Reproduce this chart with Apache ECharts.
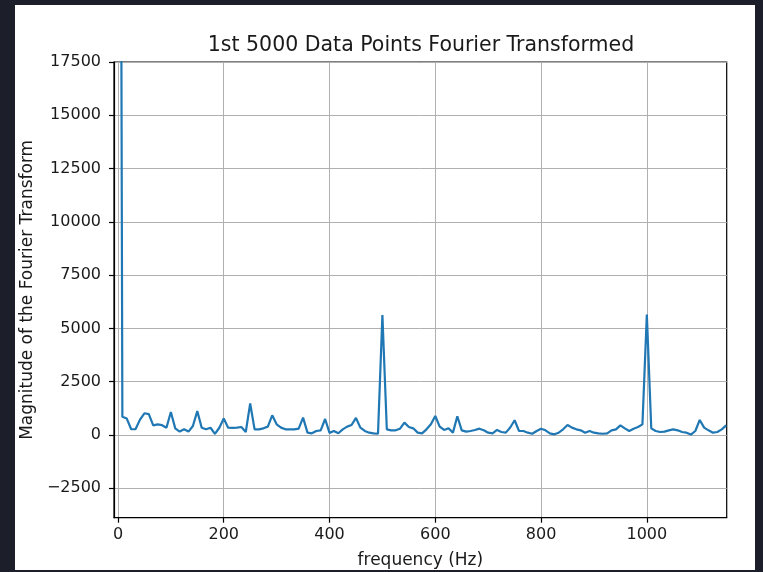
<!DOCTYPE html>
<html>
<head>
<meta charset="utf-8">
<script src="https://cdn.jsdelivr.net/npm/echarts@6/dist/echarts.min.js"></script>
<style>
  html, body { margin: 0; padding: 0; background: #1c1f2a; }
  #frame { position: absolute; left: 0; top: 0; width: 763px; height: 572px; background: #1c1f2a; }
  #chart { position: absolute; left: 15px; top: 5px; width: 740px; height: 565px; background: #ffffff; }
</style>
</head>
<body>
<div id="frame"><div id="chart"></div></div>
<script>
// FFT magnitude spectrum of the first 5000 samples (one value per frequency bin)
const binWidthHz = 25 / 3;
const magnitudes = [
  77600, 860, 770, 270, 280, 720, 1020, 980, 450, 500,
  460, 340, 1080, 310, 160, 270, 160, 420, 1120, 340,
  270, 340, 50, 340, 770, 345, 330, 345, 376, 140,
  1480, 266, 266, 313, 392, 924, 500, 345, 266, 266,
  266, 297, 815, 110, 80, 188, 219, 750, 100, 188,
  80, 266, 392, 470, 800, 345, 188, 110, 78, 60,
  5630, 266, 219, 219, 297, 580, 376, 313, 110, 78,
  266, 500, 893, 392, 235, 313, 110, 880, 219, 157,
  188, 235, 297, 219, 110, 78, 235, 141, 110, 350,
  690, 188, 188, 110, 60, 188, 297, 219, 78, 31,
  110, 266, 470, 345, 266, 219, 110, 188, 110, 78,
  60, 78, 219, 266, 454, 313, 188, 297, 376, 500,
  5650, 313, 188, 141, 157, 219, 266, 219, 141, 110,
  20, 188, 706, 345, 219, 110, 141, 266, 454
];

// tick positions
const xTicks = [0, 200, 400, 600, 800, 1000];
const yTicks = [-2500, 0, 2500, 5000, 7500, 10000, 12500, 15000, 17500];

const points = magnitudes.map((m, i) => [i * binWidthHz, m]);

const font = 'DejaVu Sans';
const textColor = '#1a1a1a';
const chart = echarts.init(document.getElementById('chart'), null, { renderer: 'canvas' });

chart.setOption({
  animation: false,
  backgroundColor: '#ffffff',
  title: {
    text: '1st 5000 Data Points Fourier Transformed',
    left: 401,
    top: 25,
    textAlign: 'center',
    textStyle: { fontFamily: font, fontSize: 20.5, fontWeight: 'normal', color: textColor }
  },
  grid: {
    left: 99, top: 57, width: 612.7, height: 455.7,
    outerBoundsMode: 'none',
    containLabel: false,
    show: true, borderColor: '#000', borderWidth: 1.2, backgroundColor: 'transparent'
  },
  xAxis: {
    type: 'value',
    min: -7.5,
    max: 1151,
    name: 'frequency (Hz)',
    nameLocation: 'middle',
    nameGap: 34,
    nameTextStyle: { fontFamily: font, fontSize: 17, color: textColor },
    axisLine: { show: true, onZero: false, lineStyle: { color: '#000', width: 1.2 } },
    axisTick: { show: true, length: 5, customValues: xTicks, lineStyle: { color: '#000', width: 1.2 } },
    axisLabel: {
      customValues: xTicks, fontFamily: font, fontSize: 16, color: textColor, margin: 9,
      formatter: v => String(v)
    },
    splitLine: { show: true, lineStyle: { color: '#b0b0b0', width: 1 } }
  },
  yAxis: {
    type: 'value',
    min: -3880,
    max: 17500,
    name: 'Magnitude of the Fourier Transform',
    nameLocation: 'middle',
    nameGap: 77,
    nameTextStyle: { fontFamily: font, fontSize: 17, color: textColor },
    axisLine: { show: true, onZero: false, lineStyle: { color: '#000', width: 1.2 } },
    axisTick: { show: true, length: 5, customValues: yTicks, lineStyle: { color: '#000', width: 1.2 } },
    axisLabel: {
      customValues: yTicks, fontFamily: font, fontSize: 16, color: textColor, margin: 13,
      formatter: v => (v < 0 ? '\u2212' + Math.abs(v) : String(v))
    },
    splitLine: { show: true, lineStyle: { color: '#b0b0b0', width: 1 } }
  },
  series: [{
    type: 'line',
    data: points,
    showSymbol: false,
    clip: true,
    lineStyle: { color: '#1f77b4', width: 2.2 },
    itemStyle: { color: '#1f77b4' }
  }]
});
</script>
</body>
</html>
